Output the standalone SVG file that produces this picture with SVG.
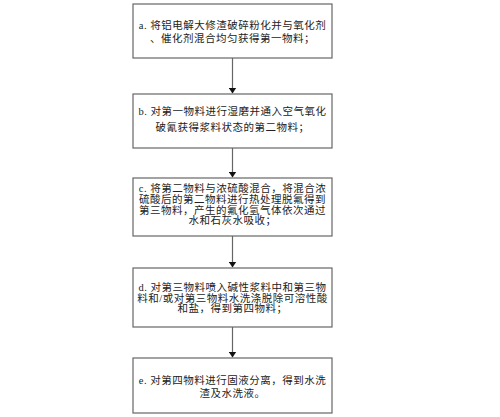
<svg xmlns="http://www.w3.org/2000/svg" width="500" height="417" viewBox="0 0 500 417">
<defs>
<style>
.box{fill:#fff;stroke:#666;stroke-width:1.2}
.t{font-family:"Liberation Serif","Noto Sans CJK SC",serif;font-size:10.5px;letter-spacing:0.5px;fill:#222;text-anchor:middle}
.ln{stroke:#666;stroke-width:1.2;fill:none}
</style>
<marker id="ah" markerWidth="6" markerHeight="8" refX="5.5" refY="4" orient="auto" markerUnits="userSpaceOnUse" viewBox="0 0 6 8">
<path d="M0,0 L6,4 L0,8 z" fill="#111"/>
</marker>
</defs>
<rect width="500" height="417" fill="#fff"/>
<g id="connectors">
<line class="ln" x1="232.5" y1="58" x2="232.5" y2="93" marker-end="url(#ah)"/>
<line class="ln" x1="232.5" y1="148" x2="232.5" y2="177" marker-end="url(#ah)"/>
<line class="ln" x1="232.5" y1="236" x2="232.5" y2="267" marker-end="url(#ah)"/>
<line class="ln" x1="232.5" y1="327" x2="232.5" y2="357" marker-end="url(#ah)"/>
</g>
<g id="node-a">
<rect class="box" x="133" y="4" width="199" height="54"/>
<text class="t" x="232.5" y="29">a. 将铝电解大修渣破碎粉化并与氧化剂</text>
<text class="t" x="232.5" y="42">、催化剂混合均匀获得第一物料；</text>
</g>
<g id="node-b">
<rect class="box" x="133" y="94" width="199" height="54"/>
<text class="t" x="232.5" y="115">b. 对第一物料进行湿磨并通入空气氧化</text>
<text class="t" x="232.5" y="131">破氰获得浆料状态的第二物料；</text>
</g>
<g id="node-c">
<rect class="box" x="133" y="178" width="199" height="58"/>
<text class="t" x="232.5" y="192">c. 将第二物料与浓硫酸混合，将混合浓</text>
<text class="t" x="232.5" y="203">硫酸后的第二物料进行热处理脱氟得到</text>
<text class="t" x="232.5" y="214">第三物料，产生的氟化氢气体依次通过</text>
<text class="t" x="232.5" y="224">水和石灰水吸收；</text>
</g>
<g id="node-d">
<rect class="box" x="133" y="268" width="199" height="59"/>
<text class="t" x="232.5" y="291">d. 对第三物料喷入碱性浆料中和第三物</text>
<text class="t" x="232.5" y="302">料和/或对第三物料水洗涤脱除可溶性酸</text>
<text class="t" x="232.5" y="312">和盐，得到第四物料；</text>
</g>
<g id="node-e">
<rect class="box" x="133" y="358" width="199" height="55"/>
<text class="t" x="232.5" y="384">e. 对第四物料进行固液分离，得到水洗</text>
<text class="t" x="232.5" y="397">渣及水洗液。</text>
</g>
</svg>
